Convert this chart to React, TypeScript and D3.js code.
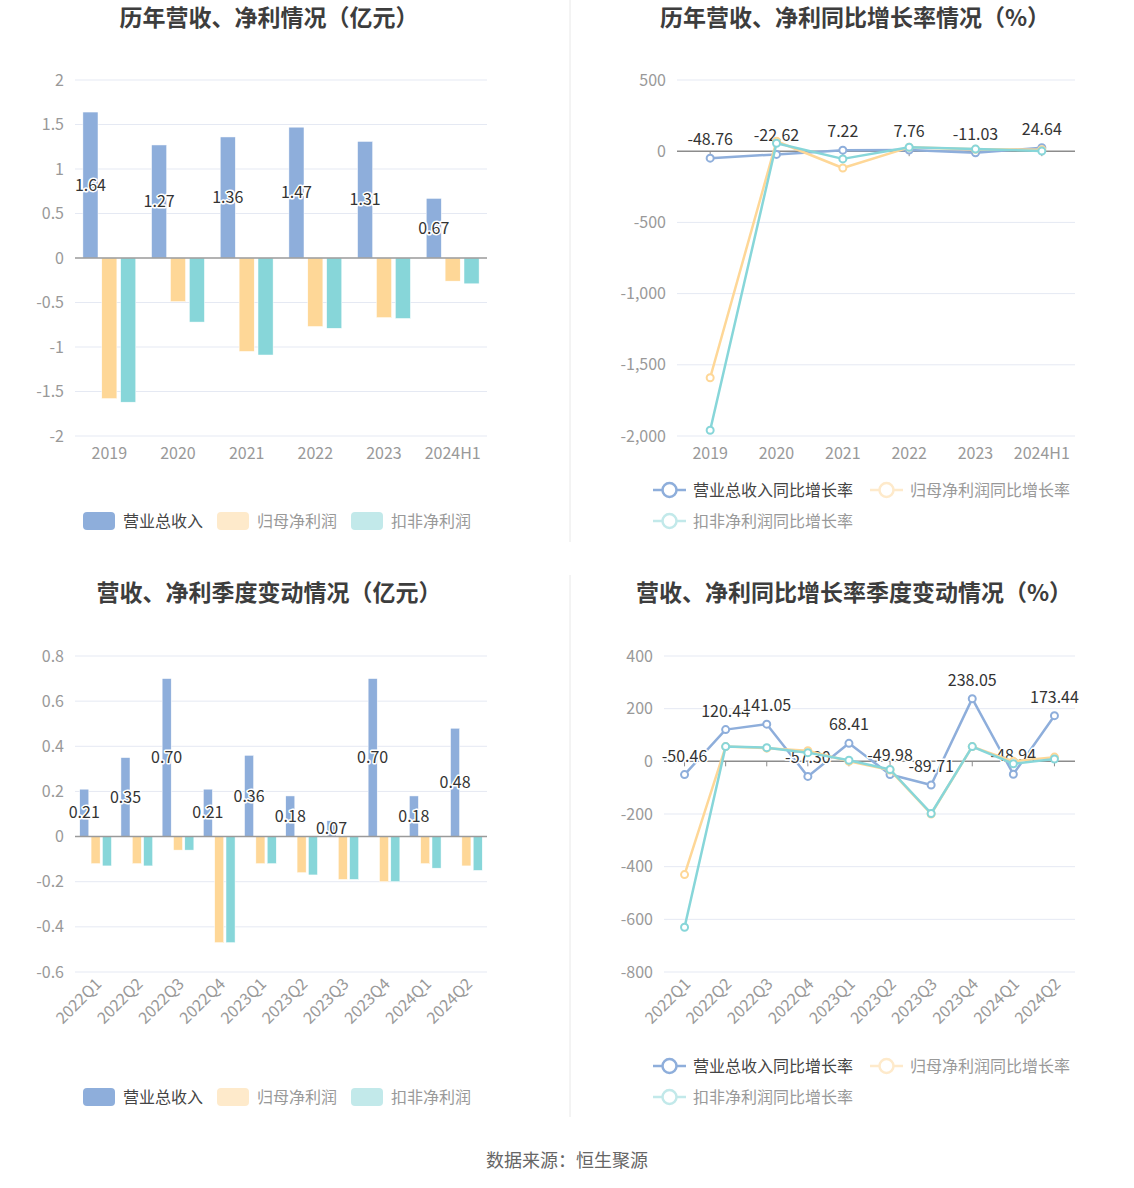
import React from 'react';
import * as d3 from 'd3';

const FONT = '"Noto Sans CJK SC","Noto Sans",sans-serif';

// ---------- data ----------
const yearCats = ['2019', '2020', '2021', '2022', '2023', '2024H1'];
const yearRevenue = [1.64, 1.27, 1.36, 1.47, 1.31, 0.67];
const yearNetProfit = [-1.58, -0.49, -1.05, -0.77, -0.67, -0.26];
const yearDeducted = [-1.62, -0.72, -1.09, -0.79, -0.68, -0.29];
const yearRevenueGrowth = [-48.76, -22.62, 7.22, 7.76, -11.03, 24.64];
const yearNetGrowth = [-1591, 70, -118, 27, 14, 10];
const yearDeductedGrowth = [-1960, 56, -54, 28, 15, 1];

const quarterCats = ['2022Q1', '2022Q2', '2022Q3', '2022Q4', '2023Q1', '2023Q2', '2023Q3', '2023Q4', '2024Q1', '2024Q2'];
const qRevenue = [0.21, 0.35, 0.70, 0.21, 0.36, 0.18, 0.07, 0.70, 0.18, 0.48];
const qNetProfit = [-0.12, -0.12, -0.06, -0.47, -0.12, -0.16, -0.19, -0.20, -0.12, -0.13];
const qDeducted = [-0.13, -0.13, -0.06, -0.47, -0.12, -0.17, -0.19, -0.20, -0.14, -0.15];
const qRevenueGrowth = [-50.46, 120.44, 141.05, -57.30, 68.41, -49.98, -89.71, 238.05, -48.94, 173.44];
const qNetGrowth = [-430, 56, 50, 40, 0, -33, -200, 56, 0, 16];
const qDeductedGrowth = [-630, 56, 52, 33, 4, -31, -198, 56, -9, 9];

const barLegend = ['营业总收入', '归母净利润', '扣非净利润'];
const lineLegend = ['营业总收入同比增长率', '归母净利润同比增长率', '扣非净利润同比增长率'];

// ---------- style ----------
const C_BLUE = '#8eaedb';
const C_ORANGE = '#fed797';
const C_TEAL = '#87d6d9';
const C_ORANGE_FADED = '#feeacb';
const C_TEAL_FADED = '#c2e9ea';
const GRID = '#e5e9f3';
const AXIS_TXT = '#999';
const LABEL_TXT = '#333';

const fmtTick = (v: number, comma: boolean) =>
  (comma ? d3.format(',')(v) : String(+v.toFixed(2))).replace('\u2212', '-');

type FrameProps = {
  x0: number; x1: number; yTop: number; yBot: number;
  domain: [number, number]; tickCount: number; comma?: boolean;
  title: string; titleX: number; titleY: number; rotate?: boolean;
};

function Title({ text, x, y }: { text: string; x: number; y: number }) {
  return (
    <text x={x} y={y} textAnchor="middle" fontFamily={FONT} fontSize={23} fontWeight="bold" fill="#3d3d3d">
      {text}
    </text>
  );
}

function YAxis({ y, x0, x1, ticks, comma }: any) {
  return (
    <g>
      {ticks.map((t: number) => (
        <g key={t}>
          {t !== 0 && <line x1={x0} x2={x1} y1={y(t)} y2={y(t)} stroke={GRID} strokeWidth={1} />}
          <text x={x0 - 11} y={y(t)} dy="0.35em" textAnchor="end" fontFamily={FONT} fontSize={16} fill={AXIS_TXT}>
            {fmtTick(t, comma)}
          </text>
        </g>
      ))}
    </g>
  );
}

function XLabels({ x, cats, yBot, rotate }: any) {
  return (
    <g>
      {cats.map((c: string) => {
        const cx = x(c) + x.bandwidth() / 2;
        return rotate ? (
          <text key={c} transform={`translate(${cx + 3},${yBot + 9}) rotate(-45)`} dy="0.35em" textAnchor="end"
            fontFamily={FONT} fontSize={16} fill={AXIS_TXT}>{c}</text>
        ) : (
          <text key={c} x={cx} y={yBot + 23} textAnchor="middle" fontFamily={FONT} fontSize={16} fill={AXIS_TXT}>{c}</text>
        );
      })}
    </g>
  );
}

function BarLegend({ x, y }: { x: number; y: number }) {
  const colors = [C_BLUE, C_ORANGE_FADED, C_TEAL_FADED];
  const textColors = ['#444', AXIS_TXT, AXIS_TXT];
  return (
    <g>
      {barLegend.map((name, i) => {
        const ix = x + i * 134;
        return (
          <g key={name}>
            <rect x={ix} y={y - 9} width={32} height={18} rx={4} fill={colors[i]} />
            <text x={ix + 40} y={y} dy="0.35em" fontFamily={FONT} fontSize={16} fill={textColors[i]}>{name}</text>
          </g>
        );
      })}
    </g>
  );
}

function LineLegend({ x, y }: { x: number; y: number }) {
  const colors = [C_BLUE, C_ORANGE_FADED, C_TEAL_FADED];
  const textColors = ['#444', AXIS_TXT, AXIS_TXT];
  const pos = [[x, y], [x + 217, y], [x, y + 31]];
  return (
    <g>
      {lineLegend.map((name, i) => {
        const [ix, iy] = pos[i];
        return (
          <g key={name}>
            <line x1={ix} x2={ix + 33} y1={iy} y2={iy} stroke={colors[i]} strokeWidth={2.5} />
            <circle cx={ix + 16.5} cy={iy} r={7} fill="#fff" stroke={colors[i]} strokeWidth={2.5} />
            <text x={ix + 40} y={iy} dy="0.35em" fontFamily={FONT} fontSize={16} fill={textColors[i]}>{name}</text>
          </g>
        );
      })}
    </g>
  );
}

function BarPanel(props: FrameProps & { cats: string[]; revenue: number[]; net: number[]; deducted: number[]; legendX: number; legendY: number }) {
  const { x0, x1, yTop, yBot, domain, tickCount, cats, revenue, net, deducted, rotate } = props;
  const x = d3.scaleBand<string>().domain(cats).range([x0, x1]);
  const y = d3.scaleLinear().domain(domain).range([yBot, yTop]);
  const ticks = y.ticks(tickCount);
  const bw = x.bandwidth() * 0.22;
  const step = x.bandwidth() * 0.275;
  const series = [
    { vals: revenue, color: C_BLUE, off: -1 },
    { vals: net, color: C_ORANGE, off: 0 },
    { vals: deducted, color: C_TEAL, off: 1 },
  ];
  return (
    <g>
      <Title text={props.title} x={props.titleX} y={props.titleY} />
      <YAxis y={y} x0={x0} x1={x1} ticks={ticks} comma={props.comma} />
      {series.map((s, si) => (
        <g key={si}>
          {s.vals.map((v, i) => {
            const cx = (x(cats[i]) as number) + x.bandwidth() / 2 + s.off * step;
            const ya = y(Math.max(0, v)), yb = y(Math.min(0, v));
            return <rect key={i} x={cx - bw / 2} y={ya} width={bw} height={yb - ya} fill={s.color} stroke="#fff" strokeWidth={0.5} />;
          })}
        </g>
      ))}
      <line x1={x0} x2={x1} y1={y(0)} y2={y(0)} stroke="#9a9a9a" strokeWidth={1.5} />
      {revenue.map((v, i) => {
        const cx = (x(cats[i]) as number) + x.bandwidth() / 2 - step;
        return (
          <text key={i} x={cx} y={(y(v) + y(0)) / 2} dy="0.35em" textAnchor="middle" fontFamily={FONT} fontSize={16}
            fill={LABEL_TXT} stroke="#fff" strokeWidth={3} paintOrder="stroke" strokeLinejoin="round">
            {v.toFixed(2)}
          </text>
        );
      })}
      <XLabels x={x} cats={cats} yBot={yBot} rotate={rotate} />
      <BarLegend x={props.legendX} y={props.legendY} />
    </g>
  );
}

function LinePanel(props: FrameProps & { cats: string[]; revenue: number[]; net: number[]; deducted: number[]; legendX: number; legendY: number }) {
  const { x0, x1, yTop, yBot, domain, tickCount, cats, revenue, net, deducted, rotate } = props;
  const x = d3.scaleBand<string>().domain(cats).range([x0, x1]);
  const y = d3.scaleLinear().domain(domain).range([yBot, yTop]);
  const ticks = y.ticks(tickCount);
  const cx = (i: number) => (x(cats[i]) as number) + x.bandwidth() / 2;
  const line = d3.line<number>().x((_, i) => cx(i)).y((d) => y(d));
  const series = [
    { vals: revenue, color: C_BLUE },
    { vals: net, color: C_ORANGE },
    { vals: deducted, color: C_TEAL },
  ];
  const drawSeries = (s: { vals: number[]; color: string }, k: number) => (
    <g key={k}>
      <path d={line(s.vals) as string} fill="none" stroke={s.color} strokeWidth={2.5} strokeLinejoin="round" />
      {s.vals.map((v, i) => (
        <circle key={i} cx={cx(i)} cy={y(v)} r={3.5} fill="#fff" stroke={s.color} strokeWidth={2} />
      ))}
    </g>
  );
  return (
    <g>
      <Title text={props.title} x={props.titleX} y={props.titleY} />
      <YAxis y={y} x0={x0} x1={x1} ticks={ticks} comma={props.comma} />
      <line x1={x0} x2={x1} y1={y(0)} y2={y(0)} stroke="#8c8c8c" strokeWidth={1.5} />
      {cats.map((c, i) => (
        <line key={c} x1={cx(i)} x2={cx(i)} y1={y(0)} y2={y(0) + 5} stroke="#8c8c8c" strokeWidth={1} />
      ))}
      {drawSeries(series[0], 0)}
      {revenue.map((v, i) => (
        <text key={i} x={cx(i)} y={y(v) - 13} textAnchor="middle" fontFamily={FONT} fontSize={16}
          fill={LABEL_TXT} stroke="#fff" strokeWidth={3} paintOrder="stroke" strokeLinejoin="round">
          {v.toFixed(2)}
        </text>
      ))}
      {drawSeries(series[1], 1)}
      {drawSeries(series[2], 2)}
      <XLabels x={x} cats={cats} yBot={yBot} rotate={rotate} />
      <LineLegend x={props.legendX} y={props.legendY} />
    </g>
  );
}

export default function App() {
  return (
    <svg width={1134} height={1188} style={{ position: 'absolute', left: 0, top: 0, display: 'block', background: '#fff' }}>
      <rect x={0} y={0} width={1134} height={1188} fill="#fff" />
      <line x1={570} x2={570} y1={0} y2={542} stroke="#e8e8e8" strokeWidth={1} />
      <line x1={570} x2={570} y1={575} y2={1117} stroke="#e8e8e8" strokeWidth={1} />

      <BarPanel title="历年营收、净利情况（亿元）" titleX={269} titleY={26}
        x0={75} x1={487} yTop={80} yBot={436} domain={[-2, 2]} tickCount={8}
        cats={yearCats} revenue={yearRevenue} net={yearNetProfit} deducted={yearDeducted}
        legendX={83} legendY={521} />

      <LinePanel title="历年营收、净利同比增长率情况（%）" titleX={855} titleY={26}
        x0={677} x1={1075} yTop={80} yBot={436} domain={[-2000, 500]} tickCount={5} comma
        cats={yearCats} revenue={yearRevenueGrowth} net={yearNetGrowth} deducted={yearDeductedGrowth}
        legendX={653} legendY={490} />

      <BarPanel title="营收、净利季度变动情况（亿元）" titleX={269} titleY={601}
        x0={75} x1={487} yTop={656} yBot={972} domain={[-0.6, 0.8]} tickCount={7} rotate
        cats={quarterCats} revenue={qRevenue} net={qNetProfit} deducted={qDeducted}
        legendX={83} legendY={1097} />

      <LinePanel title="营收、净利同比增长率季度变动情况（%）" titleX={854} titleY={601}
        x0={664} x1={1075} yTop={656} yBot={972} domain={[-800, 400]} tickCount={6} rotate
        cats={quarterCats} revenue={qRevenueGrowth} net={qNetGrowth} deducted={qDeductedGrowth}
        legendX={653} legendY={1066} />

      <text x={567} y={1161} dy="0.35em" textAnchor="middle" fontFamily={FONT} fontSize={18} fill="#666">
        数据来源：恒生聚源
      </text>
    </svg>
  );
}
